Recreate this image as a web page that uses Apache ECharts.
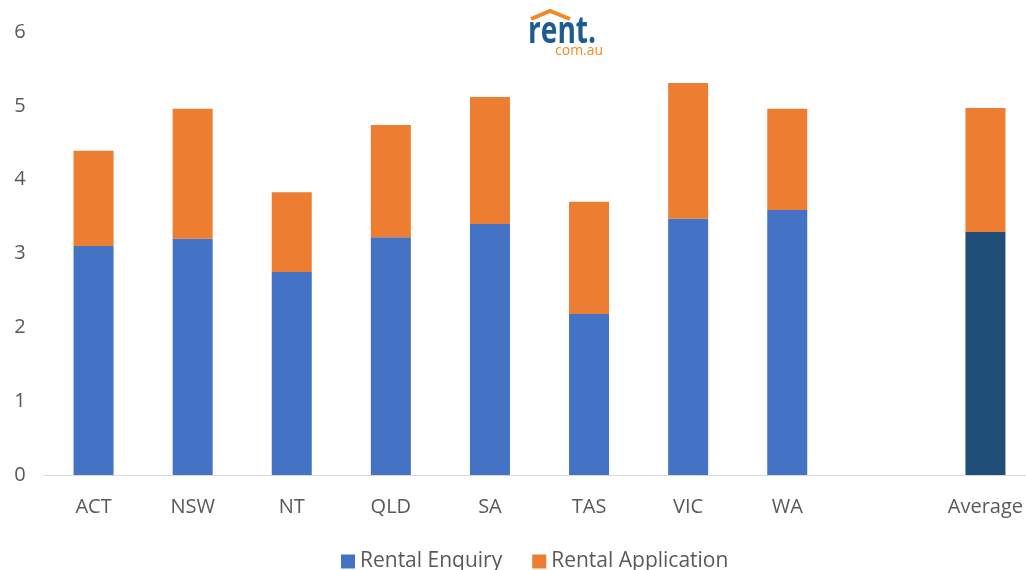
<!DOCTYPE html>
<html>
<head>
<meta charset="utf-8">
<script src="https://cdn.jsdelivr.net/npm/echarts@6/dist/echarts.min.js"></script>
<style>
  html, body { margin: 0; padding: 0; background: #fff; }
  #chart { width: 1026px; height: 570px; }
</style>
</head>
<body>
<div id="chart"></div>
<script>
// categories, blank slot before the Average bar
const categories = ['ACT', 'NSW', 'NT', 'QLD', 'SA', 'TAS', 'VIC', 'WA', '', 'Average']
const enquiry = [3.10, 3.20, 2.75, 3.22, 3.40, 2.18, 3.47, 3.59, '-', 3.29]
const application = [1.29, 1.76, 1.08, 1.52, 1.72, 1.52, 1.84, 1.37, '-', 1.68]
const yTicks = [0, 1, 2, 3, 4, 5, 6]

const textColor = '#595959'
const font = 'Open Sans'

const chart = echarts.init(document.getElementById('chart'))

const enquiryData = enquiry.map(function (v, i) {
  if (categories[i] === 'Average') {
    return { value: v, itemStyle: { color: '#1f4e79' } }
  }
  return v
})

chart.setOption({
  animation: false,
  textStyle: { fontFamily: font },
  grid: {
    left: 44,
    width: 991,
    top: 32,
    bottom: 95,
    containLabel: false,
    outerBoundsMode: 'none'
  },
  legend: {
    data: ['Rental Enquiry', 'Rental Application'],
    top: 546,
    left: 336,
    itemWidth: 14,
    itemHeight: 14,
    itemGap: 30,
    icon: 'rect',
    textStyle: { fontSize: 21, color: textColor, fontFamily: font }
  },
  xAxis: {
    type: 'category',
    data: categories,
    axisTick: { show: false },
    axisLine: { lineStyle: { color: '#d9d9d9', width: 1 } },
    axisLabel: { fontSize: 20, color: textColor, margin: 22, interval: 0 }
  },
  yAxis: {
    type: 'value',
    min: yTicks[0],
    max: yTicks[yTicks.length - 1],
    interval: 1,
    axisLine: { show: false },
    axisTick: { show: false },
    splitLine: { show: false },
    axisLabel: { fontSize: 20, color: textColor, margin: 24, align: 'center' }
  },
  series: [
    {
      name: 'Rental Enquiry',
      type: 'bar',
      stack: 'total',
      barWidth: 40,
      itemStyle: { color: '#4472c4' },
      data: enquiryData
    },
    {
      name: 'Rental Application',
      type: 'bar',
      stack: 'total',
      barWidth: 40,
      itemStyle: { color: '#ed7d31' },
      data: application
    }
  ],
  graphic: [
    // rent.com.au logo
    {
      type: 'polyline',
      shape: { points: [[531, 19], [550, 11], [570, 19]] },
      style: { stroke: '#f08a24', lineWidth: 4, fill: null, lineJoin: 'miter' }
    },
    {
      type: 'text',
      x: 528,
      y: 13,
      scaleX: 0.74,
      style: {
        text: 'rent.',
        font: 'bold 38px "Open Sans"',
        fill: '#1d5b95'
      }
    },
    {
      type: 'text',
      x: 555,
      y: 44,
      style: {
        text: 'com.au',
        font: '14px "Open Sans"',
        fill: '#f08a24'
      }
    }
  ]
})

window.addEventListener('resize', function () {
  chart.resize()
})
</script>
</body>
</html>
